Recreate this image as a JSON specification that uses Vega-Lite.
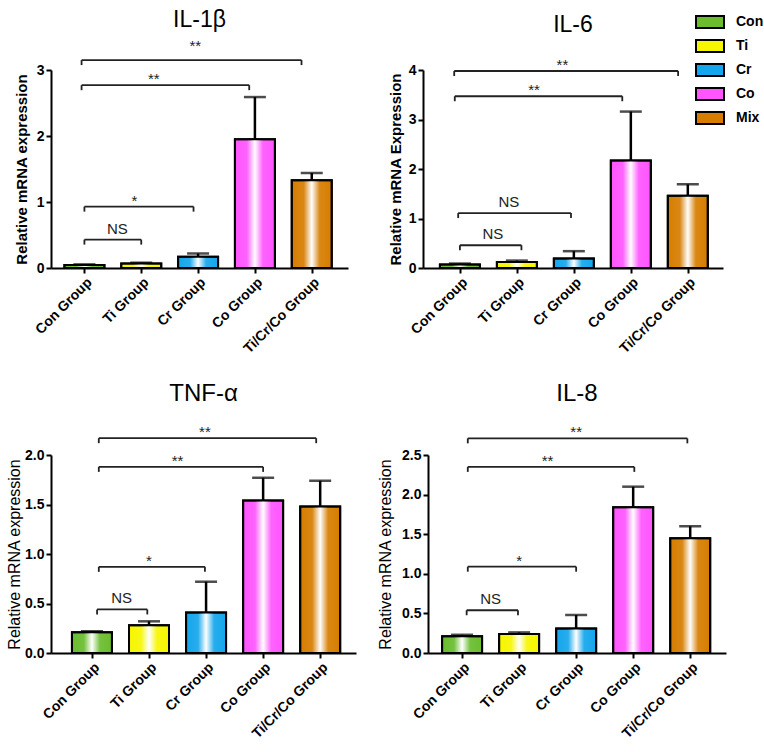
{
  "$schema": "https://vega.github.io/schema/vega-lite/v6.json",
  "padding": {"left": 5, "top": 9, "right": 0, "bottom": 0},
  "datasets": {
    "bars": [
      {"p": "IL-1β", "g": "Con", "i": 0, "m": 0.045, "u": 0.055},
      {"p": "IL-1β", "g": "Ti", "i": 1, "m": 0.07, "u": 0.08},
      {"p": "IL-1β", "g": "Cr", "i": 2, "m": 0.17, "u": 0.22},
      {"p": "IL-1β", "g": "Co", "i": 3, "m": 1.95, "u": 2.59},
      {"p": "IL-1β", "g": "Mix", "i": 4, "m": 1.33, "u": 1.44},
      {"p": "IL-6", "g": "Con", "i": 0, "m": 0.07, "u": 0.09},
      {"p": "IL-6", "g": "Ti", "i": 1, "m": 0.12, "u": 0.15},
      {"p": "IL-6", "g": "Cr", "i": 2, "m": 0.19, "u": 0.34},
      {"p": "IL-6", "g": "Co", "i": 3, "m": 2.17, "u": 3.16},
      {"p": "IL-6", "g": "Mix", "i": 4, "m": 1.46, "u": 1.69},
      {"p": "TNF-α", "g": "Con", "i": 0, "m": 0.21, "u": 0.22},
      {"p": "TNF-α", "g": "Ti", "i": 1, "m": 0.28, "u": 0.32},
      {"p": "TNF-α", "g": "Cr", "i": 2, "m": 0.41, "u": 0.72},
      {"p": "TNF-α", "g": "Co", "i": 3, "m": 1.54, "u": 1.77},
      {"p": "TNF-α", "g": "Mix", "i": 4, "m": 1.48, "u": 1.74},
      {"p": "IL-8", "g": "Con", "i": 0, "m": 0.21, "u": 0.23},
      {"p": "IL-8", "g": "Ti", "i": 1, "m": 0.24, "u": 0.26},
      {"p": "IL-8", "g": "Cr", "i": 2, "m": 0.31, "u": 0.48},
      {"p": "IL-8", "g": "Co", "i": 3, "m": 1.84, "u": 2.1},
      {"p": "IL-8", "g": "Mix", "i": 4, "m": 1.45, "u": 1.6}
    ],
    "br": [
      {"p": "IL-1β", "x1": -0.05, "x2": 3.82, "y": 3.15, "lx": 1.95, "ly": 3.27, "t": "**"},
      {"p": "IL-1β", "x1": -0.05, "x2": 2.9, "y": 2.77, "lx": 1.22, "ly": 2.77, "t": "**"},
      {"p": "IL-1β", "x1": 0, "x2": 1.92, "y": 0.93, "lx": 0.88, "ly": 0.93, "t": "*"},
      {"p": "IL-1β", "x1": 0, "x2": 1.0, "y": 0.43, "lx": 0.58, "ly": 0.43, "t": "NS"},
      {"p": "IL-6", "x1": -0.1, "x2": 3.83, "y": 3.98, "lx": 1.8, "ly": 3.98, "t": "**"},
      {"p": "IL-6", "x1": -0.09, "x2": 2.85, "y": 3.47, "lx": 1.3, "ly": 3.47, "t": "**"},
      {"p": "IL-6", "x1": -0.03, "x2": 1.95, "y": 1.11, "lx": 0.86, "ly": 1.11, "t": "NS"},
      {"p": "IL-6", "x1": 0, "x2": 1.08, "y": 0.46, "lx": 0.58, "ly": 0.46, "t": "NS"},
      {"p": "TNF-α", "x1": 0.12, "x2": 3.93, "y": 2.17, "lx": 1.98, "ly": 2.17, "t": "**"},
      {"p": "TNF-α", "x1": 0.12, "x2": 3.0, "y": 1.88, "lx": 1.5, "ly": 1.88, "t": "**"},
      {"p": "TNF-α", "x1": 0.12, "x2": 1.98, "y": 0.87, "lx": 1.0, "ly": 0.87, "t": "*"},
      {"p": "TNF-α", "x1": 0.09, "x2": 0.97, "y": 0.44, "lx": 0.52, "ly": 0.44, "t": "NS"},
      {"p": "IL-8", "x1": 0.1, "x2": 3.95, "y": 2.71, "lx": 2.0, "ly": 2.71, "t": "**"},
      {"p": "IL-8", "x1": 0.1, "x2": 3.02, "y": 2.35, "lx": 1.5, "ly": 2.35, "t": "**"},
      {"p": "IL-8", "x1": 0.1, "x2": 2.0, "y": 1.09, "lx": 1.0, "ly": 1.09, "t": "*"},
      {"p": "IL-8", "x1": 0.08, "x2": 0.98, "y": 0.54, "lx": 0.5, "ly": 0.54, "t": "NS"}
    ]
  },
  "spacing": 26,
  "resolve": {"scale": {"color": "shared"}, "legend": {"color": "shared"}},
  "vconcat": [
    {
      "spacing": 39,
      "resolve": {"scale": {"color": "shared"}, "legend": {"color": "shared"}},
      "hconcat": [
        {
          "width": 297, "height": 198,
          "title": {"text": "IL-1β", "offset": 7, "fontSize": 23},
          "layer": [
            {"data": {"name": "bars"}, "transform": [{"filter": "datum.p == 'IL-1β'"}],
             "mark": {"type": "bar", "width": 40, "stroke": "black", "strokeWidth": 2},
             "encoding": {
               "x": {"field": "i", "type": "quantitative", "scale": {"domain": [-0.5, 4.55], "nice": false, "zero": false},
                     "axis": {"values": [0, 1, 2, 3, 4], "title": null, "labelAngle": -45, "labelOverlap": false, "labelFontSize": 14, "labelExpr": "['Con Group','Ti Group','Cr Group','Co Group','Ti/Cr/Co Group'][datum.value]"}},
               "y": {"field": "m", "type": "quantitative", "scale": {"domain": [0, 3], "nice": false},
                     "axis": {"values": [0, 1, 2, 3], "tickCount": 10, "format": "d", "labelOverlap": false, "labelFontSize": 14, "title": "Relative mRNA expression", "titleFontWeight": "bold", "titleFontSize": 15, "titleX": -22}},
               "color": {"field": "g", "type": "nominal",
                 "scale": {"domain": ["Con", "Ti", "Cr", "Co", "Mix"], "range": ["#6abd2e", "#f6f600", "#14a6ec", "#ff55ff", "#d67d00"]},
                 "legend": {"orient": "none", "legendX": 651, "legendY": -56, "title": null, "symbolType": "M-2,-0.86H2V0.86H-2Z", "symbolSize": 196, "symbolStrokeColor": "black", "symbolStrokeWidth": 2, "labelFontSize": 14, "labelFontWeight": "bold", "labelColor": "black", "labelOffset": 18, "rowPadding": 2,
                   "encode": {"symbols": {"update": {"fill": {"signal": "{gradient:'linear',x1:0,y1:0,x2:1,y2:0,stops:[{offset:0,color:scale('color',datum.value)},{offset:0.3,color:scale('color',datum.value)},{offset:0.5,color:'#ffffff'},{offset:0.7,color:scale('color',datum.value)},{offset:1,color:scale('color',datum.value)}]}"}, "stroke": {"value": "black"}}}}}}
             }},
            {"data": {"name": "bars"}, "transform": [{"filter": "datum.p == 'IL-1β'"}],
             "mark": {"type": "rule", "strokeWidth": 2.5, "color": "black"},
             "encoding": {"x": {"field": "i", "type": "quantitative"}, "y": {"field": "m", "type": "quantitative"}, "y2": {"field": "u"}}},
            {"data": {"name": "bars"}, "transform": [{"filter": "datum.p == 'IL-1β'"}],
             "mark": {"type": "tick", "orient": "horizontal", "size": 22, "thickness": 2.5, "color": "black"},
             "encoding": {"x": {"field": "i", "type": "quantitative"}, "y": {"field": "u", "type": "quantitative"}}},
            {"data": {"name": "bars"}, "transform": [{"filter": "datum.p == 'IL-1β'"}],
             "mark": {"type": "bar", "width": 40, "stroke": "black", "strokeWidth": 2,
                      "fill": {"gradient": "linear", "x1": 0, "y1": 0, "x2": 1, "y2": 0, "stops": [{"offset": 0, "color": "rgba(255,255,255,0)"}, {"offset": 0.3, "color": "rgba(255,255,255,0.08)"}, {"offset": 0.5, "color": "rgba(255,255,255,1)"}, {"offset": 0.7, "color": "rgba(255,255,255,0.08)"}, {"offset": 1, "color": "rgba(255,255,255,0)"}]}},
             "encoding": {"x": {"field": "i", "type": "quantitative"}, "y": {"field": "m", "type": "quantitative"}}},
            {"data": {"name": "br"}, "transform": [{"filter": "datum.p == 'IL-1β'"}],
             "mark": {"type": "rule", "strokeWidth": 1.8, "color": "#222"},
             "encoding": {"x": {"field": "x1", "type": "quantitative"}, "x2": {"field": "x2"}, "y": {"field": "y", "type": "quantitative"}}},
            {"data": {"name": "br"}, "transform": [{"filter": "datum.p == 'IL-1β'"}, {"fold": ["x1", "x2"], "as": ["k", "xe"]}],
             "mark": {"type": "rule", "strokeWidth": 1.8, "color": "#222", "y2Offset": 5},
             "encoding": {"x": {"field": "xe", "type": "quantitative"}, "y": {"field": "y", "type": "quantitative"}, "y2": {"field": "y"}}},
            {"data": {"name": "br"}, "transform": [{"filter": "datum.p == 'IL-1β' && datum.t == 'NS'"}],
             "mark": {"type": "text", "fontSize": 15, "color": "#222", "baseline": "alphabetic", "dy": -6},
             "encoding": {"x": {"field": "lx", "type": "quantitative"}, "y": {"field": "ly", "type": "quantitative"}, "text": {"field": "t"}}},
            {"data": {"name": "br"}, "transform": [{"filter": "datum.p == 'IL-1β' && datum.t != 'NS'"}],
             "mark": {"type": "text", "fontSize": 15, "color": "#222", "baseline": "alphabetic", "dy": -1},
             "encoding": {"x": {"field": "lx", "type": "quantitative"}, "y": {"field": "ly", "type": "quantitative"}, "text": {"field": "t"}}}
          ]
        },
        {
          "width": 300, "height": 198,
          "title": {"text": "IL-6", "offset": 21, "fontSize": 23},
          "layer": [
            {"data": {"name": "bars"}, "transform": [{"filter": "datum.p == 'IL-6'"}],
             "mark": {"type": "bar", "width": 40, "stroke": "black", "strokeWidth": 2},
             "encoding": {
               "x": {"field": "i", "type": "quantitative", "scale": {"domain": [-0.56, 4.53], "nice": false, "zero": false},
                     "axis": {"values": [0, 1, 2, 3, 4], "title": null, "labelAngle": -45, "labelOverlap": false, "labelFontSize": 14, "labelExpr": "['Con Group','Ti Group','Cr Group','Co Group','Ti/Cr/Co Group'][datum.value]"}},
               "y": {"field": "m", "type": "quantitative", "scale": {"domain": [0, 4], "nice": false},
                     "axis": {"values": [0, 1, 2, 3, 4], "tickCount": 10, "format": "d", "labelOverlap": false, "labelFontSize": 14, "title": "Relative mRNA Expression", "titleFontWeight": "bold", "titleFontSize": 15, "titleX": -20}},
               "color": {"field": "g", "type": "nominal",
                 "scale": {"domain": ["Con", "Ti", "Cr", "Co", "Mix"], "range": ["#6abd2e", "#f6f600", "#14a6ec", "#ff55ff", "#d67d00"]},
                 "legend": {"orient": "none", "legendX": 651, "legendY": -56, "title": null, "symbolType": "M-2,-0.86H2V0.86H-2Z", "symbolSize": 196, "symbolStrokeColor": "black", "symbolStrokeWidth": 2, "labelFontSize": 14, "labelFontWeight": "bold", "labelColor": "black", "labelOffset": 18, "rowPadding": 2,
                   "encode": {"symbols": {"update": {"fill": {"signal": "{gradient:'linear',x1:0,y1:0,x2:1,y2:0,stops:[{offset:0,color:scale('color',datum.value)},{offset:0.3,color:scale('color',datum.value)},{offset:0.5,color:'#ffffff'},{offset:0.7,color:scale('color',datum.value)},{offset:1,color:scale('color',datum.value)}]}"}, "stroke": {"value": "black"}}}}}}
             }},
            {"data": {"name": "bars"}, "transform": [{"filter": "datum.p == 'IL-6'"}],
             "mark": {"type": "rule", "strokeWidth": 2.5, "color": "black"},
             "encoding": {"x": {"field": "i", "type": "quantitative"}, "y": {"field": "m", "type": "quantitative"}, "y2": {"field": "u"}}},
            {"data": {"name": "bars"}, "transform": [{"filter": "datum.p == 'IL-6'"}],
             "mark": {"type": "tick", "orient": "horizontal", "size": 22, "thickness": 2.5, "color": "black"},
             "encoding": {"x": {"field": "i", "type": "quantitative"}, "y": {"field": "u", "type": "quantitative"}}},
            {"data": {"name": "bars"}, "transform": [{"filter": "datum.p == 'IL-6'"}],
             "mark": {"type": "bar", "width": 40, "stroke": "black", "strokeWidth": 2,
                      "fill": {"gradient": "linear", "x1": 0, "y1": 0, "x2": 1, "y2": 0, "stops": [{"offset": 0, "color": "rgba(255,255,255,0)"}, {"offset": 0.3, "color": "rgba(255,255,255,0.08)"}, {"offset": 0.5, "color": "rgba(255,255,255,1)"}, {"offset": 0.7, "color": "rgba(255,255,255,0.08)"}, {"offset": 1, "color": "rgba(255,255,255,0)"}]}},
             "encoding": {"x": {"field": "i", "type": "quantitative"}, "y": {"field": "m", "type": "quantitative"}}},
            {"data": {"name": "br"}, "transform": [{"filter": "datum.p == 'IL-6'"}],
             "mark": {"type": "rule", "strokeWidth": 1.8, "color": "#222"},
             "encoding": {"x": {"field": "x1", "type": "quantitative"}, "x2": {"field": "x2"}, "y": {"field": "y", "type": "quantitative"}}},
            {"data": {"name": "br"}, "transform": [{"filter": "datum.p == 'IL-6'"}, {"fold": ["x1", "x2"], "as": ["k", "xe"]}],
             "mark": {"type": "rule", "strokeWidth": 1.8, "color": "#222", "y2Offset": 5},
             "encoding": {"x": {"field": "xe", "type": "quantitative"}, "y": {"field": "y", "type": "quantitative"}, "y2": {"field": "y"}}},
            {"data": {"name": "br"}, "transform": [{"filter": "datum.p == 'IL-6' && datum.t == 'NS'"}],
             "mark": {"type": "text", "fontSize": 15, "color": "#222", "baseline": "alphabetic", "dy": -6},
             "encoding": {"x": {"field": "lx", "type": "quantitative"}, "y": {"field": "ly", "type": "quantitative"}, "text": {"field": "t"}}},
            {"data": {"name": "br"}, "transform": [{"filter": "datum.p == 'IL-6' && datum.t != 'NS'"}],
             "mark": {"type": "text", "fontSize": 15, "color": "#222", "baseline": "alphabetic", "dy": -1},
             "encoding": {"x": {"field": "lx", "type": "quantitative"}, "y": {"field": "ly", "type": "quantitative"}, "text": {"field": "t"}}}
          ]
        }
      ]
    },
    {
      "spacing": 20,
      "resolve": {"scale": {"color": "shared"}, "legend": {"color": "shared"}},
      "hconcat": [
        {
          "width": 305, "height": 198,
          "title": {"text": "TNF-α", "offset": 19, "fontSize": 24},
          "layer": [
            {"data": {"name": "bars"}, "transform": [{"filter": "datum.p == 'TNF-α'"}],
             "mark": {"type": "bar", "width": 40, "stroke": "black", "strokeWidth": 2},
             "encoding": {
               "x": {"field": "i", "type": "quantitative", "scale": {"domain": [-0.63, 4.54], "nice": false, "zero": false},
                     "axis": {"values": [0, 1, 2, 3, 4], "title": null, "labelAngle": -45, "labelOverlap": false, "labelFontSize": 14, "labelExpr": "['Con Group','Ti Group','Cr Group','Co Group','Ti/Cr/Co Group'][datum.value]"}},
               "y": {"field": "m", "type": "quantitative", "scale": {"domain": [0, 2], "nice": false},
                     "axis": {"values": [0, 0.5, 1, 1.5, 2], "tickCount": 10, "format": ".1f", "labelOverlap": false, "labelFontSize": 14, "title": "Relative mRNA expression", "titleFontWeight": "normal", "titleFontSize": 16, "titleX": -29}},
               "color": {"field": "g", "type": "nominal",
                 "scale": {"domain": ["Con", "Ti", "Cr", "Co", "Mix"], "range": ["#6abd2e", "#f6f600", "#14a6ec", "#ff55ff", "#d67d00"]},
                 "legend": {"orient": "none", "legendX": 651, "legendY": -56, "title": null, "symbolType": "M-2,-0.86H2V0.86H-2Z", "symbolSize": 196, "symbolStrokeColor": "black", "symbolStrokeWidth": 2, "labelFontSize": 14, "labelFontWeight": "bold", "labelColor": "black", "labelOffset": 18, "rowPadding": 2,
                   "encode": {"symbols": {"update": {"fill": {"signal": "{gradient:'linear',x1:0,y1:0,x2:1,y2:0,stops:[{offset:0,color:scale('color',datum.value)},{offset:0.3,color:scale('color',datum.value)},{offset:0.5,color:'#ffffff'},{offset:0.7,color:scale('color',datum.value)},{offset:1,color:scale('color',datum.value)}]}"}, "stroke": {"value": "black"}}}}}}
             }},
            {"data": {"name": "bars"}, "transform": [{"filter": "datum.p == 'TNF-α'"}],
             "mark": {"type": "rule", "strokeWidth": 2.5, "color": "black"},
             "encoding": {"x": {"field": "i", "type": "quantitative"}, "y": {"field": "m", "type": "quantitative"}, "y2": {"field": "u"}}},
            {"data": {"name": "bars"}, "transform": [{"filter": "datum.p == 'TNF-α'"}],
             "mark": {"type": "tick", "orient": "horizontal", "size": 22, "thickness": 2.5, "color": "black"},
             "encoding": {"x": {"field": "i", "type": "quantitative"}, "y": {"field": "u", "type": "quantitative"}}},
            {"data": {"name": "bars"}, "transform": [{"filter": "datum.p == 'TNF-α'"}],
             "mark": {"type": "bar", "width": 40, "stroke": "black", "strokeWidth": 2,
                      "fill": {"gradient": "linear", "x1": 0, "y1": 0, "x2": 1, "y2": 0, "stops": [{"offset": 0, "color": "rgba(255,255,255,0)"}, {"offset": 0.3, "color": "rgba(255,255,255,0.08)"}, {"offset": 0.5, "color": "rgba(255,255,255,1)"}, {"offset": 0.7, "color": "rgba(255,255,255,0.08)"}, {"offset": 1, "color": "rgba(255,255,255,0)"}]}},
             "encoding": {"x": {"field": "i", "type": "quantitative"}, "y": {"field": "m", "type": "quantitative"}}},
            {"data": {"name": "br"}, "transform": [{"filter": "datum.p == 'TNF-α'"}],
             "mark": {"type": "rule", "strokeWidth": 1.8, "color": "#222"},
             "encoding": {"x": {"field": "x1", "type": "quantitative"}, "x2": {"field": "x2"}, "y": {"field": "y", "type": "quantitative"}}},
            {"data": {"name": "br"}, "transform": [{"filter": "datum.p == 'TNF-α'"}, {"fold": ["x1", "x2"], "as": ["k", "xe"]}],
             "mark": {"type": "rule", "strokeWidth": 1.8, "color": "#222", "y2Offset": 5},
             "encoding": {"x": {"field": "xe", "type": "quantitative"}, "y": {"field": "y", "type": "quantitative"}, "y2": {"field": "y"}}},
            {"data": {"name": "br"}, "transform": [{"filter": "datum.p == 'TNF-α' && datum.t == 'NS'"}],
             "mark": {"type": "text", "fontSize": 15, "color": "#222", "baseline": "alphabetic", "dy": -6},
             "encoding": {"x": {"field": "lx", "type": "quantitative"}, "y": {"field": "ly", "type": "quantitative"}, "text": {"field": "t"}}},
            {"data": {"name": "br"}, "transform": [{"filter": "datum.p == 'TNF-α' && datum.t != 'NS'"}],
             "mark": {"type": "text", "fontSize": 15, "color": "#222", "baseline": "alphabetic", "dy": -1},
             "encoding": {"x": {"field": "lx", "type": "quantitative"}, "y": {"field": "ly", "type": "quantitative"}, "text": {"field": "t"}}}
          ]
        },
        {
          "width": 298, "height": 198,
          "title": {"text": "IL-8", "offset": 19, "fontSize": 24},
          "layer": [
            {"data": {"name": "bars"}, "transform": [{"filter": "datum.p == 'IL-8'"}],
             "mark": {"type": "bar", "width": 40, "stroke": "black", "strokeWidth": 2},
             "encoding": {
               "x": {"field": "i", "type": "quantitative", "scale": {"domain": [-0.51, 4.54], "nice": false, "zero": false},
                     "axis": {"values": [0, 1, 2, 3, 4], "title": null, "labelAngle": -45, "labelOverlap": false, "labelFontSize": 14, "labelExpr": "['Con Group','Ti Group','Cr Group','Co Group','Ti/Cr/Co Group'][datum.value]"}},
               "y": {"field": "m", "type": "quantitative", "scale": {"domain": [0, 2.5], "nice": false},
                     "axis": {"values": [0, 0.5, 1, 1.5, 2, 2.5], "tickCount": 10, "format": ".1f", "labelOverlap": false, "labelFontSize": 14, "title": "Relative mRNA expression", "titleFontWeight": "normal", "titleFontSize": 16, "titleX": -35}},
               "color": {"field": "g", "type": "nominal",
                 "scale": {"domain": ["Con", "Ti", "Cr", "Co", "Mix"], "range": ["#6abd2e", "#f6f600", "#14a6ec", "#ff55ff", "#d67d00"]},
                 "legend": {"orient": "none", "legendX": 651, "legendY": -56, "title": null, "symbolType": "M-2,-0.86H2V0.86H-2Z", "symbolSize": 196, "symbolStrokeColor": "black", "symbolStrokeWidth": 2, "labelFontSize": 14, "labelFontWeight": "bold", "labelColor": "black", "labelOffset": 18, "rowPadding": 2,
                   "encode": {"symbols": {"update": {"fill": {"signal": "{gradient:'linear',x1:0,y1:0,x2:1,y2:0,stops:[{offset:0,color:scale('color',datum.value)},{offset:0.3,color:scale('color',datum.value)},{offset:0.5,color:'#ffffff'},{offset:0.7,color:scale('color',datum.value)},{offset:1,color:scale('color',datum.value)}]}"}, "stroke": {"value": "black"}}}}}}
             }},
            {"data": {"name": "bars"}, "transform": [{"filter": "datum.p == 'IL-8'"}],
             "mark": {"type": "rule", "strokeWidth": 2.5, "color": "black"},
             "encoding": {"x": {"field": "i", "type": "quantitative"}, "y": {"field": "m", "type": "quantitative"}, "y2": {"field": "u"}}},
            {"data": {"name": "bars"}, "transform": [{"filter": "datum.p == 'IL-8'"}],
             "mark": {"type": "tick", "orient": "horizontal", "size": 22, "thickness": 2.5, "color": "black"},
             "encoding": {"x": {"field": "i", "type": "quantitative"}, "y": {"field": "u", "type": "quantitative"}}},
            {"data": {"name": "bars"}, "transform": [{"filter": "datum.p == 'IL-8'"}],
             "mark": {"type": "bar", "width": 40, "stroke": "black", "strokeWidth": 2,
                      "fill": {"gradient": "linear", "x1": 0, "y1": 0, "x2": 1, "y2": 0, "stops": [{"offset": 0, "color": "rgba(255,255,255,0)"}, {"offset": 0.3, "color": "rgba(255,255,255,0.08)"}, {"offset": 0.5, "color": "rgba(255,255,255,1)"}, {"offset": 0.7, "color": "rgba(255,255,255,0.08)"}, {"offset": 1, "color": "rgba(255,255,255,0)"}]}},
             "encoding": {"x": {"field": "i", "type": "quantitative"}, "y": {"field": "m", "type": "quantitative"}}},
            {"data": {"name": "br"}, "transform": [{"filter": "datum.p == 'IL-8'"}],
             "mark": {"type": "rule", "strokeWidth": 1.8, "color": "#222"},
             "encoding": {"x": {"field": "x1", "type": "quantitative"}, "x2": {"field": "x2"}, "y": {"field": "y", "type": "quantitative"}}},
            {"data": {"name": "br"}, "transform": [{"filter": "datum.p == 'IL-8'"}, {"fold": ["x1", "x2"], "as": ["k", "xe"]}],
             "mark": {"type": "rule", "strokeWidth": 1.8, "color": "#222", "y2Offset": 5},
             "encoding": {"x": {"field": "xe", "type": "quantitative"}, "y": {"field": "y", "type": "quantitative"}, "y2": {"field": "y"}}},
            {"data": {"name": "br"}, "transform": [{"filter": "datum.p == 'IL-8' && datum.t == 'NS'"}],
             "mark": {"type": "text", "fontSize": 15, "color": "#222", "baseline": "alphabetic", "dy": -6},
             "encoding": {"x": {"field": "lx", "type": "quantitative"}, "y": {"field": "ly", "type": "quantitative"}, "text": {"field": "t"}}},
            {"data": {"name": "br"}, "transform": [{"filter": "datum.p == 'IL-8' && datum.t != 'NS'"}],
             "mark": {"type": "text", "fontSize": 15, "color": "#222", "baseline": "alphabetic", "dy": -1},
             "encoding": {"x": {"field": "lx", "type": "quantitative"}, "y": {"field": "ly", "type": "quantitative"}, "text": {"field": "t"}}}
          ]
        }
      ]
    }
  ],
  "config": {
    "view": {"stroke": null},
    "font": "Liberation Sans",
    "axis": {"domainColor": "black", "domainWidth": 2, "tickColor": "black", "tickWidth": 2, "tickSize": 5, "labelColor": "black", "labelFontWeight": "bold", "labelFontSize": 14, "labelOverlap": false, "titleColor": "black", "grid": false, "labelPadding": 2, "titlePadding": 6},
    "title": {"fontWeight": "normal", "color": "black", "font": "Liberation Sans"}
  }
}
